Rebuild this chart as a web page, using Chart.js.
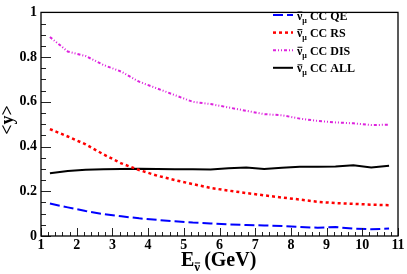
<!DOCTYPE html>
<html>
<head>
<meta charset="utf-8">
<script src="https://cdn.jsdelivr.net/npm/chart.js@4"></script>
<style>
  html, body { margin: 0; padding: 0; background: #fff; }
</style>
</head>
<body>
<canvas id="c" width="407" height="274"></canvas>
<script>
(() => {
  'use strict'

  // neutrino energy bins (GeV)
  const energies = [1.25, 1.75, 2.25, 2.75, 3.25, 3.75, 4.25, 4.75, 5.25, 5.75,
    6.25, 6.75, 7.25, 7.75, 8.25, 8.75, 9.25, 9.75, 10.25, 10.75]

  // <y> per channel
  const qeVals = [0.145, 0.128, 0.112, 0.098, 0.088, 0.079, 0.072, 0.066, 0.060, 0.056,
    0.052, 0.049, 0.047, 0.045, 0.040, 0.037, 0.040, 0.033, 0.030, 0.033]
  const rsVals = [0.478, 0.445, 0.410, 0.365, 0.325, 0.295, 0.270, 0.250, 0.232, 0.215,
    0.203, 0.192, 0.182, 0.172, 0.163, 0.153, 0.147, 0.144, 0.140, 0.138]
  const disVals = [0.890, 0.825, 0.805, 0.765, 0.735, 0.690, 0.660, 0.630, 0.600, 0.590,
    0.575, 0.560, 0.545, 0.540, 0.525, 0.515, 0.508, 0.504, 0.496, 0.498]
  const allVals = [0.281, 0.291, 0.296, 0.298, 0.300, 0.301, 0.300, 0.298, 0.298, 0.297,
    0.303, 0.306, 0.300, 0.305, 0.310, 0.310, 0.311, 0.316, 0.306, 0.314]

  const seriesNames = ['CC QE', 'CC RS', 'CC DIS', 'CC ALL']

  const xTicks = [1, 2, 3, 4, 5, 6, 7, 8, 9, 10, 11]
  const yTicks = [0, 0.2, 0.4, 0.6, 0.8, 1]

  const serif = "'Liberation Serif', 'DejaVu Serif', serif"

  const toPoints = vals => vals.map((v, i) => ({ x: energies[i], y: v }))

  // inward ticks + frame, ROOT style
  const framePlugin = {
    id: 'frame',
    afterDatasetsDraw(chart) {
      const { ctx, chartArea: a, scales } = chart
      const xs = scales.x
      const ys = scales.y
      ctx.save()
      ctx.strokeStyle = '#222'
      ctx.lineWidth = 1
      for (let v = 1; v <= 11.0001; v += 0.2) {
        const px = Math.round(xs.getPixelForValue(v)) + 0.5
        const major = Math.abs(v - Math.round(v)) < 1e-6
        ctx.beginPath()
        ctx.moveTo(px, a.bottom)
        ctx.lineTo(px, a.bottom - (major ? 8 : 4))
        ctx.stroke()
      }
      for (let v = 0; v <= 1.0001; v += 0.05) {
        const py = Math.round(ys.getPixelForValue(v)) + 0.5
        const major = Math.abs(v * 5 - Math.round(v * 5)) < 1e-6
        ctx.beginPath()
        ctx.moveTo(a.left, py)
        ctx.lineTo(a.left + (major ? 10 : 5), py)
        ctx.stroke()
      }
      ctx.strokeStyle = '#000'
      ctx.lineWidth = 1.3
      ctx.strokeRect(a.left, a.top, a.right - a.left, a.bottom - a.top)
      ctx.restore()
    }
  }

  // draw nu-bar (nu with an overline) and return its width
  function drawNuBar(ctx, x, y, size) {
    ctx.font = `bold ${size}px ${serif}`
    const w = ctx.measureText('ν').width
    ctx.fillText('ν', x, y)
    ctx.save()
    ctx.lineWidth = 1
    ctx.beginPath()
    ctx.moveTo(x + 0.5, y - size * 0.62)
    ctx.lineTo(x + w, y - size * 0.62)
    ctx.stroke()
    ctx.restore()
    return w
  }

  const textPlugin = {
    id: 'texts',
    afterDraw(chart) {
      const { ctx } = chart
      ctx.save()
      ctx.fillStyle = '#000'
      ctx.strokeStyle = '#000'
      ctx.textBaseline = 'alphabetic'
      ctx.textAlign = 'left'

      // legend
      chart.data.datasets.forEach((ds, i) => {
        const yBase = 19.5 + i * 17.6
        const yLine = yBase - 4.5
        ctx.save()
        ctx.strokeStyle = ds.borderColor
        ctx.lineWidth = ds.borderWidth
        ctx.setLineDash(ds.borderDash || [])
        ctx.beginPath()
        ctx.moveTo(273, yLine)
        ctx.lineTo(293, yLine)
        ctx.stroke()
        ctx.restore()
        let x = 297
        x += drawNuBar(ctx, x, yBase, 12)
        ctx.font = `bold 8px ${serif}`
        ctx.fillText('μ', x, yBase + 3)
        x += ctx.measureText('μ').width + 3
        ctx.font = `bold 12px ${serif}`
        ctx.fillText(seriesNames[i], x, yBase)
      })

      // x title
      let x = 181
      const yb = 266
      ctx.font = `bold 20px ${serif}`
      ctx.fillText('E', x, yb)
      x += ctx.measureText('E').width
      x += drawNuBar(ctx, x, yb + 5, 13) + 4
      ctx.font = `bold 20px ${serif}`
      ctx.fillText('(GeV)', x, yb)

      // y title
      ctx.translate(13, 120)
      ctx.rotate(-Math.PI / 2)
      ctx.textAlign = 'center'
      ctx.font = `bold 18px ${serif}`
      ctx.fillText('<y>', 0, 0)
      ctx.restore()
    }
  }

  const tickFont = { family: serif, size: 14, weight: 'bold' }

  const ctx = document.getElementById('c')
  // eslint-disable-next-line no-unused-vars
  const chart = new Chart(ctx, {
    type: 'line',
    data: {
      datasets: [
        { data: toPoints(qeVals), borderColor: '#0000ff', borderWidth: 2, borderDash: [10, 4] },
        { data: toPoints(rsVals), borderColor: '#ff0000', borderWidth: 2.5, borderDash: [3, 3] },
        { data: toPoints(disVals), borderColor: '#dd22dd', borderWidth: 2, borderDash: [3, 2, 1, 2, 1, 2] },
        { data: toPoints(allVals), borderColor: '#000000', borderWidth: 2 }
      ]
    },
    options: {
      responsive: false,
      animation: false,
      devicePixelRatio: 1,
      layout: { padding: { top: 4, right: 9, left: 0, bottom: 0 } },
      elements: { point: { radius: 0 }, line: { tension: 0 } },
      plugins: {
        legend: { display: false },
        tooltip: { enabled: false }
      },
      scales: {
        x: {
          type: 'linear',
          min: 1,
          max: 11,
          afterBuildTicks: s => { s.ticks = xTicks.map(v => ({ value: v })) },
          afterFit: s => { s.height = 38 },
          grid: { display: false, drawTicks: false },
          border: { display: false },
          ticks: { font: tickFont, color: '#000', padding: 1, maxRotation: 0, autoSkip: false,
            callback: v => String(v) }
        },
        y: {
          min: 0,
          max: 1,
          afterBuildTicks: s => { s.ticks = yTicks.map(v => ({ value: v })) },
          afterFit: s => { s.width = 41 },
          grid: { display: false, drawTicks: false },
          border: { display: false },
          ticks: { font: tickFont, color: '#000', padding: 4,
            callback: v => String(+v.toFixed(1)) }
        }
      }
    },
    plugins: [framePlugin, textPlugin]
  })
})()
</script>
</body>
</html>
